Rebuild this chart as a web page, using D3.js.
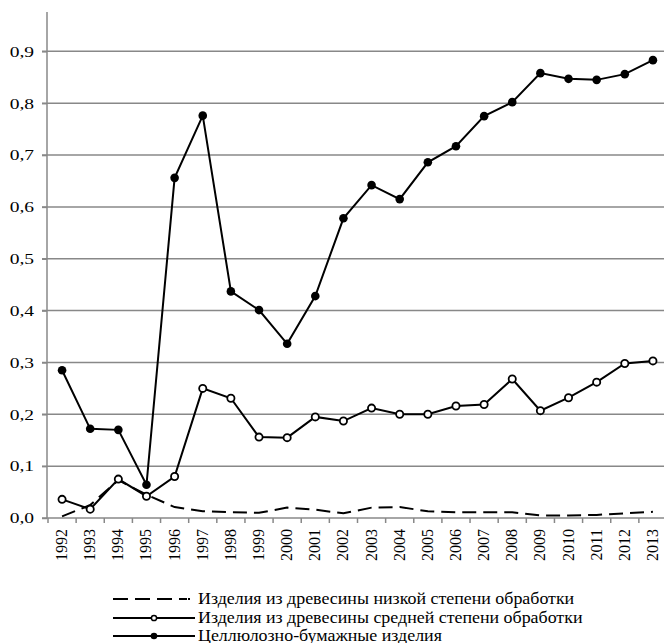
<!DOCTYPE html>
<html>
<head>
<meta charset="utf-8">
<script src="https://cdn.jsdelivr.net/npm/d3@7"></script>
<style>
    body { margin: 0; background: #fff; }
    svg { display: block; }
</style>
</head>
<body>
<script>
    // годы
    const years = d3.range(1992, 2014).map(String);
    // Изделия из древесины низкой степени обработки
    const lowValues = [0.003, 0.025, 0.073, 0.045, 0.021, 0.013, 0.011, 0.010, 0.020, 0.016, 0.009, 0.020,
        0.021, 0.013, 0.011, 0.011, 0.011, 0.005, 0.005, 0.006, 0.009, 0.012];
    // Изделия из древесины средней степени обработки
    const midValues = [0.036, 0.017, 0.075, 0.042, 0.080, 0.250, 0.231, 0.156, 0.155, 0.195, 0.187, 0.212,
        0.200, 0.200, 0.216, 0.219, 0.268, 0.207, 0.232, 0.262, 0.298, 0.303];
    // Целлюлозно-бумажные изделия
    const pulpValues = [0.285, 0.172, 0.170, 0.064, 0.656, 0.776, 0.437, 0.401, 0.336, 0.428, 0.578, 0.642,
        0.615, 0.686, 0.717, 0.775, 0.802, 0.858, 0.847, 0.845, 0.856, 0.883];
    const yTicks = [0, 0.1, 0.2, 0.3, 0.4, 0.5, 0.6, 0.7, 0.8, 0.9];
    const seriesNames = [
        'Изделия из древесины низкой степени обработки',
        'Изделия из древесины средней степени обработки',
        'Целлюлозно-бумажные изделия'
    ];

    const width = 664;
    const height = 643;
    const gridColor = '#888';
    const serif = '"Liberation Serif", "DejaVu Serif", serif';

    const svg = d3.select('body').append('svg')
        .attr('width', width)
        .attr('height', height)
        .style('font-family', serif);

    const x = d3.scaleBand().domain(years).range([48, 667]);
    const y = d3.scaleLinear().domain([0, 1]).range([518, -0.5]);
    const cx = d => x(d) + x.bandwidth() / 2;

    // сетка
    svg.append('g')
        .selectAll('line')
        .data(yTicks.slice(1))
        .enter().append('line')
        .attr('x1', 42).attr('x2', width)
        .attr('y1', d => y(d)).attr('y2', d => y(d))
        .attr('stroke', gridColor).attr('stroke-width', 1.5);

    // ось Y
    const yAxis = svg.append('g')
        .attr('transform', 'translate(47,0)')
        .call(d3.axisLeft(y).tickValues(yTicks).tickSize(5).tickFormat(d => d3.format('.1f')(d).replace('.', ',')))
        .attr('font-family', serif)
        .attr('font-size', null);
    yAxis.select('.domain').remove();
    yAxis.selectAll('line').attr('stroke', gridColor).attr('stroke-width', 1.5);
    yAxis.selectAll('text')
        .attr('x', 0)
        .attr('fill', '#000')
        .style('font-size', '15px')
        .attr('transform', 'translate(-13,0) scale(1.3,1)');
    svg.append('line')
        .attr('x1', 47).attr('x2', 47).attr('y1', 12).attr('y2', y(0))
        .attr('stroke', gridColor).attr('stroke-width', 1.5);

    // ось X
    svg.append('line')
        .attr('x1', 42).attr('x2', width).attr('y1', y(0)).attr('y2', y(0))
        .attr('stroke', gridColor).attr('stroke-width', 1.5);
    svg.append('g')
        .selectAll('line')
        .data(years)
        .enter().append('line')
        .attr('x1', d => x(d)).attr('x2', d => x(d))
        .attr('y1', y(0)).attr('y2', y(0) + 5)
        .attr('stroke', gridColor).attr('stroke-width', 1.5);
    svg.append('g')
        .selectAll('text')
        .data(years)
        .enter().append('text')
        .attr('transform', d => `translate(${cx(d) + 5},${y(0) + 11}) rotate(-90)`)
        .attr('text-anchor', 'end')
        .style('font-size', '16px')
        .text(d => d);

    const line = d3.line().x((d, i) => cx(years[i])).y(d => y(d));

    // линии
    svg.append('path')
        .attr('d', line(lowValues))
        .attr('fill', 'none').attr('stroke', '#000').attr('stroke-width', 2)
        .attr('stroke-dasharray', '14,7');

    svg.append('path')
        .attr('d', line(midValues))
        .attr('fill', 'none').attr('stroke', '#000').attr('stroke-width', 2);

    svg.append('path')
        .attr('d', line(pulpValues))
        .attr('fill', 'none').attr('stroke', '#000').attr('stroke-width', 2);

    svg.append('g')
        .selectAll('circle')
        .data(midValues)
        .enter().append('circle')
        .attr('cx', (d, i) => cx(years[i])).attr('cy', d => y(d))
        .attr('r', 3.6)
        .attr('fill', '#fff').attr('stroke', '#000').attr('stroke-width', 1.8);

    svg.append('g')
        .selectAll('circle')
        .data(pulpValues)
        .enter().append('circle')
        .attr('cx', (d, i) => cx(years[i])).attr('cy', d => y(d))
        .attr('r', 4.3)
        .attr('fill', '#000');

    // легенда
    const legend = svg.append('g');
    const legendY = [599, 618, 636];
    seriesNames.forEach((name, i) => {
        const g = legend.append('g').attr('transform', `translate(0,${legendY[i]})`);
        if (i === 0) {
            g.append('line')
                .attr('x1', 113).attr('x2', 187).attr('y1', 0).attr('y2', 0)
                .attr('stroke', '#000').attr('stroke-width', 2)
                .attr('stroke-dasharray', '15,7');
            g.append('rect').attr('x', 188).attr('y', -1).attr('width', 2).attr('height', 2).attr('fill', '#000');
        } else {
            g.append('line')
                .attr('x1', 113).attr('x2', 195).attr('y1', 0).attr('y2', 0)
                .attr('stroke', '#000').attr('stroke-width', 2);
            if (i === 1) {
                g.append('circle').attr('cx', 154).attr('cy', 0).attr('r', 2.6)
                    .attr('fill', '#fff').attr('stroke', '#000').attr('stroke-width', 1.5);
            } else {
                g.append('circle').attr('cx', 154).attr('cy', 0).attr('r', 3.3).attr('fill', '#000');
            }
        }
        g.append('text')
            .attr('transform', 'translate(198,5) scale(1.12,1)')
            .style('font-size', '16px')
            .text(name);
    });
</script>
</body>
</html>
